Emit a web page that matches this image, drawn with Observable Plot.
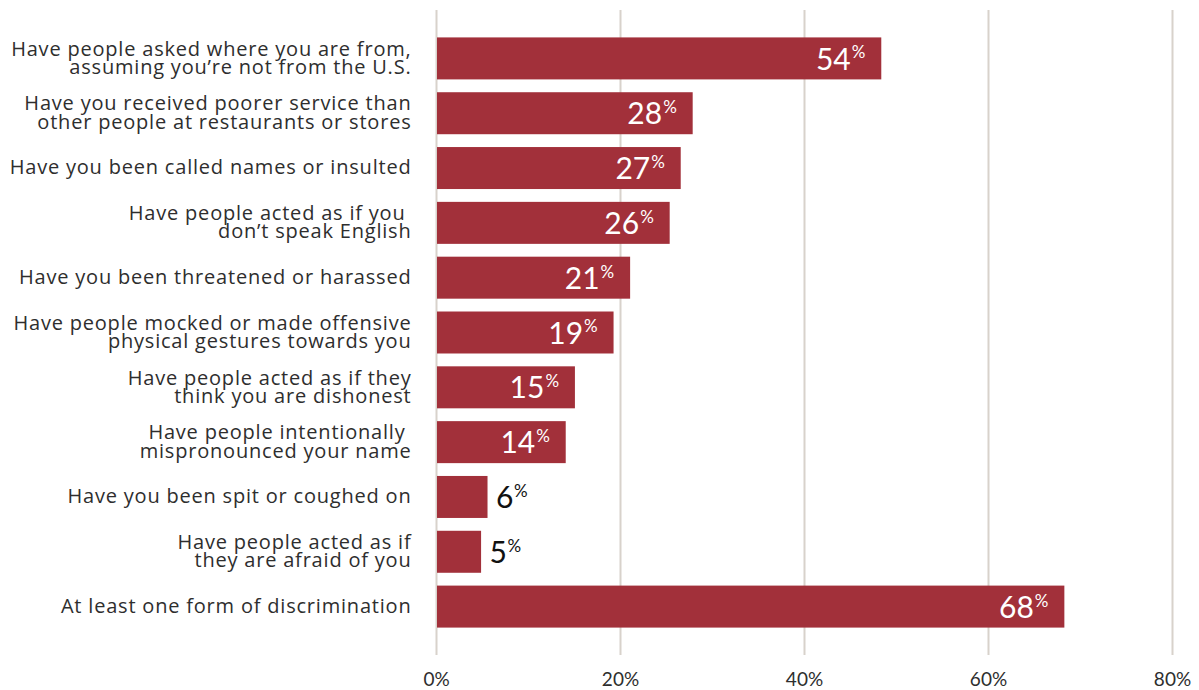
<!DOCTYPE html>
<html>
<head>
<meta charset="utf-8">
<script src="https://cdn.jsdelivr.net/npm/d3@7"></script>
<script src="https://cdn.jsdelivr.net/npm/@observablehq/plot@0.6"></script>
<style>
  html, body { margin: 0; padding: 0; background: #fff; }
  #chart svg { display: block; }
</style>
</head>
<body>
<div id="chart"></div>
<script>
const categories = [
  "Have people asked where you are from,\nassuming you’re not from the U.S.",
  "Have you received poorer service than\nother people at restaurants or stores",
  "Have you been called names or insulted",
  "Have people acted as if you \ndon’t speak English",
  "Have you been threatened or harassed",
  "Have people mocked or made offensive\nphysical gestures towards you",
  "Have people acted as if they\nthink you are dishonest",
  "Have people intentionally \nmispronounced your name",
  "Have you been spit or coughed on",
  "Have people acted as if\nthey are afraid of you",
  "At least one form of discrimination"
];
// bar lengths as drawn in the picture (percent)
const barValues = [48.4, 27.9, 26.6, 25.4, 21.1, 19.3, 15.1, 14.1, 5.6, 4.9, 68.3];
// printed value labels
const valueLabels = ["54", "28", "27", "26", "21", "19", "15", "14", "6", "5", "68"];
const xTicks = [0, 20, 40, 60, 80];

const data = categories.map((c, i) => ({
  category: c,
  value: barValues[i],
  label: valueLabels[i],
  inside: barValues[i] > 10
}));

const FONT = "Lato, 'Open Sans', sans-serif";
const LABEL_FONT = "'Open Sans', Lato, sans-serif";
const BAR = "#a2303a";
const INK = "#2e2e2e";

const plot = Plot.plot({
  width: 1199,
  height: 690,
  marginLeft: 436,
  marginRight: 27,
  marginTop: 10,
  marginBottom: 35,
  style: { fontFamily: FONT, background: "#fff" },
  x: { domain: [0, 80], axis: null },
  y: { domain: categories, paddingInner: 0.234, paddingOuter: 0.5, round: false, axis: null },
  marks: [
    Plot.ruleX(xTicks, { stroke: "#d8d2cb", strokeWidth: 2 }),
    Plot.barX(data, { x: "value", y: "category", fill: BAR, insetLeft: 1 }),
    // category labels
    Plot.text(data, {
      x: 0, y: "category", text: "category",
      textAnchor: "end", dx: -25, dy: 0, lineHeight: 0.92,
      fontSize: 20, fontFamily: LABEL_FONT, fill: INK
    }),
    // inside labels (number + %)
    Plot.text(data.filter(d => d.inside), {
      x: "value", y: "category", text: "label",
      textAnchor: "end", dx: -31, dy: 1, fontSize: 30, fill: "#fff"
    }),
    Plot.text(data.filter(d => d.inside), {
      x: "value", y: "category", text: () => "%",
      textAnchor: "start", dx: -30, dy: -6, fontSize: 17, fill: "#fff"
    }),
    // outside labels
    Plot.text(data.filter(d => !d.inside), {
      x: "value", y: "category", text: "label",
      textAnchor: "start", dx: 8, dy: 1, fontSize: 30, fill: "#111"
    }),
    Plot.text(data.filter(d => !d.inside), {
      x: "value", y: "category", text: () => "%",
      textAnchor: "start", dx: 26, dy: -6, fontSize: 17, fill: "#111"
    }),
    // x tick labels
    Plot.axisX(xTicks, {
      anchor: "bottom", tickSize: 0, tickPadding: 17,
      tickFormat: d => d + "%", fontSize: 19, fill: INK, label: null
    })
  ]
});

// widen the tracking of the category labels (first text group)
d3.select(plot).selectAll('g[aria-label="text"]')
  .filter((d, i) => i === 0)
  .attr("letter-spacing", "0.8px");

document.getElementById("chart").appendChild(plot);
</script>
</body>
</html>
